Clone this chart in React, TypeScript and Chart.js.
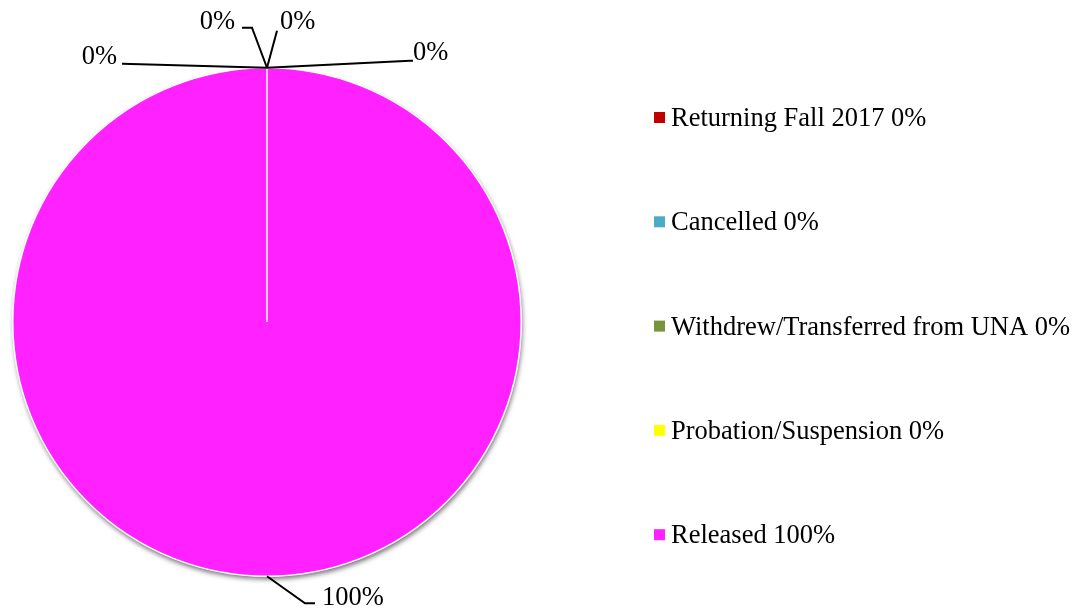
import React, { useEffect, useRef } from "react";
import { Chart, registerables } from "chart.js";

Chart.register(...registerables);

const categories = [
  "Returning Fall 2017",
  "Cancelled",
  "Withdrew/Transferred from UNA",
  "Probation/Suspension",
  "Released",
];
const percentValues = [0, 0, 0, 0, 100];
const sliceColors = ["#C00000", "#4BACC6", "#77933C", "#FFFF00", "#FF21FF"];

// label placement relative to each slice's anchor point on the rim
const labelLayout = [
  { pts: [[143, -7], [146, -7]], tx: 146, ty: -15, align: "left" },
  { pts: [[10, -37]], tx: 13, ty: -46, align: "left" },
  { pts: [[-15, -40], [-25, -40]], tx: -32, ty: -46, align: "right" },
  { pts: [[-145, -4]], tx: -150, ty: -11, align: "right" },
  { pts: [[38, 27], [48, 27]], tx: 55, ty: 22, align: "left" },
];

const FONT = "26.5px 'Liberation Serif', 'Times New Roman', serif";

const decorPlugin = {
  id: "decor",
  beforeDatasetsDraw(chart: any) {
    const meta = chart.getDatasetMeta(0);
    const arc = meta.data[4];
    if (!arc) return;
    const { x, y, outerRadius } = arc.getProps(["x", "y", "outerRadius"], true);
    const ctx = chart.ctx;
    ctx.save();
    ctx.shadowColor = "rgba(0,0,0,0.55)";
    ctx.shadowBlur = 5;
    ctx.shadowOffsetX = 1;
    ctx.shadowOffsetY = 3;
    ctx.beginPath();
    ctx.arc(x, y, outerRadius, 0, Math.PI * 2);
    ctx.fillStyle = "#ffffff";
    ctx.fill();
    ctx.restore();
  },
  afterDatasetsDraw(chart: any) {
    const ctx = chart.ctx;
    const meta = chart.getDatasetMeta(0);
    const data = chart.data.datasets[0].data as number[];
    const total = data.reduce((a: number, b: number) => a + b, 0);
    ctx.save();
    ctx.font = FONT;
    ctx.fillStyle = "#000";
    ctx.strokeStyle = "#000";
    ctx.lineWidth = 2;
    ctx.textBaseline = "middle";
    meta.data.forEach((el: any, i: number) => {
      const { x, y, outerRadius, startAngle, endAngle } = el.getProps(
        ["x", "y", "outerRadius", "startAngle", "endAngle"],
        true
      );
      const mid = (startAngle + endAngle) / 2;
      const ax = x + Math.cos(mid) * outerRadius;
      const ay = y + Math.sin(mid) * outerRadius;
      const lay = labelLayout[i];
      ctx.beginPath();
      ctx.moveTo(ax, ay);
      lay.pts.forEach((p) => ctx.lineTo(ax + p[0], ay + p[1]));
      ctx.stroke();
      ctx.textAlign = lay.align as CanvasTextAlign;
      const pct = Math.round((data[i] / total) * 100);
      ctx.fillText(pct + "%", ax + lay.tx, ay + lay.ty);
    });

    // legend
    const legendX = 654;
    const legendY0 = 117.5;
    const legendStep = 104.3;
    ctx.textAlign = "left";
    chart.data.labels.forEach((lab: string, i: number) => {
      const cy = legendY0 + i * legendStep;
      ctx.fillStyle = sliceColors[i];
      ctx.fillRect(legendX, cy - 5.5, 11, 11);
      ctx.fillStyle = "#000";
      const pct = Math.round((data[i] / total) * 100);
      ctx.fillText(lab + " " + pct + "%", legendX + 17, cy + 1.5);
    });
    ctx.restore();
  },
};

export default function App() {
  const ref = useRef<HTMLCanvasElement>(null);
  useEffect(() => {
    if (!ref.current) return;
    const chart = new Chart(ref.current, {
      type: "pie",
      data: {
        labels: categories,
        datasets: [
          {
            data: percentValues,
            backgroundColor: sliceColors,
            borderColor: "#ffffff",
            borderWidth: [0, 0, 0, 0, 1.5],
          },
        ],
      },
      options: {
        responsive: false,
        animation: false,
        layout: { padding: { left: 12, top: 67, right: 561, bottom: 33 } },
        plugins: {
          legend: { display: false },
          tooltip: { enabled: false },
        },
      },
      plugins: [decorPlugin],
    });
    return () => chart.destroy();
  }, []);
  return (
    <div style={{ position: "fixed", left: 0, top: 0, width: 1083, height: 610, background: "#fff" }}>
      <canvas ref={ref} width={1083} height={610} style={{ display: "block" }} />
    </div>
  );
}
